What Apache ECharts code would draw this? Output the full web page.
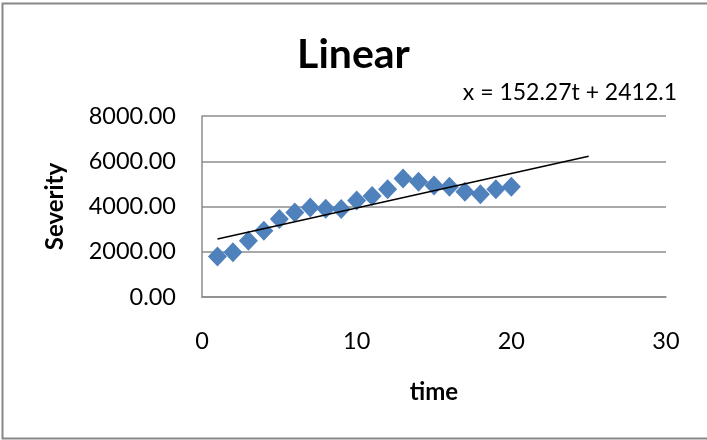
<!DOCTYPE html>
<html>
<head>
<meta charset="utf-8">
<script src="https://cdn.jsdelivr.net/npm/echarts@6/dist/echarts.min.js"></script>
<style>
  html, body { margin: 0; padding: 0; background: #fff; }
  #chart { width: 707px; height: 440px; }
</style>
</head>
<body>
<div id="chart"></div>
<script>
// Observed severity per time step
const timeSteps = [1, 2, 3, 4, 5, 6, 7, 8, 9, 10, 11, 12, 13, 14, 15, 16, 17, 18, 19, 20];
const severity = [1790, 1980, 2490, 2930, 3450, 3730, 3960, 3900, 3890, 4260,
                  4460, 4760, 5240, 5090, 4930, 4870, 4650, 4540, 4760, 4870];

// Linear trend x = slope * t + intercept, drawn from t = 1 and projected forward to t = 25
const trendSlope = 152.27;
const trendIntercept = 2412.1;
const trendRange = [1, 25];
const trendLabel = 'x = 152.27t + 2412.1';

const xTicks = [0, 10, 20, 30];
const yTicks = [0, 2000, 4000, 6000, 8000];

const FONT = 'Lato, "Open Sans", sans-serif';

const chart = echarts.init(document.getElementById('chart'), null, { renderer: 'canvas' });

const scatterData = timeSteps.map((t, i) => [t, severity[i]]);
const trendData = trendRange.map(t => [t, trendSlope * t + trendIntercept]);

chart.setOption({
  backgroundColor: '#ffffff',
  animation: false,
  title: {
    text: 'Linear',
    left: 'center',
    top: 29,
    textStyle: { fontFamily: FONT, fontSize: 41, fontWeight: 'bold', color: '#000' }
  },
  grid: { left: 202, right: 41, top: 116, bottom: 143 },
  xAxis: {
    type: 'value',
    min: xTicks[0],
    max: xTicks[xTicks.length - 1],
    interval: 10,
    name: 'time',
    nameLocation: 'middle',
    nameGap: 83,
    nameTextStyle: { fontFamily: FONT, fontSize: 24, fontWeight: 'bold', color: '#000' },
    axisLine: { show: true, lineStyle: { color: '#8c8c8c', width: 1.5 } },
    axisTick: { show: false },
    splitLine: { show: false },
    axisLabel: { margin: 32, fontFamily: FONT, fontSize: 23.5, color: '#000' }
  },
  yAxis: {
    type: 'value',
    min: yTicks[0],
    max: yTicks[yTicks.length - 1],
    interval: 2000,
    name: 'Severity',
    nameLocation: 'middle',
    nameGap: 135,
    nameRotate: 90,
    nameTextStyle: { fontFamily: FONT, fontSize: 24, fontWeight: 'bold', color: '#000' },
    axisLine: { show: true, lineStyle: { color: '#8c8c8c', width: 1.5 } },
    axisTick: { show: false },
    splitLine: { show: true, lineStyle: { color: '#8c8c8c', width: 1.5 } },
    axisLabel: {
      margin: 26, fontFamily: FONT, fontSize: 23.5, color: '#000',
      formatter: v => v.toFixed(2)
    }
  },
  series: [
    {
      type: 'scatter',
      data: scatterData,
      symbol: 'diamond',
      symbolSize: [19, 20],
      itemStyle: { color: '#4F81BD', opacity: 1 },
      z: 2
    },
    {
      type: 'line',
      data: trendData,
      symbol: 'none',
      lineStyle: { color: '#000', width: 1.5 },
      z: 3
    }
  ],
  graphic: [
    {
      type: 'rect',
      shape: { x: 2.5, y: 3.5, width: 720, height: 435 },
      style: { fill: 'none', stroke: '#878787', lineWidth: 2 },
      silent: true
    },
    {
      type: 'text',
      right: 30,
      top: 81,
      style: { text: trendLabel, font: '23px ' + FONT, fill: '#000' }
    }
  ]
});
</script>
</body>
</html>
